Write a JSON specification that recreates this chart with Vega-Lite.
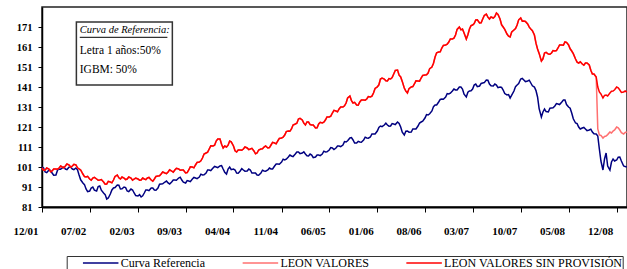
{
"$schema": "https://vega.github.io/schema/vega-lite/v6.json",
"width": 585, "height": 200,
"autosize": "none",
"padding": {"left": 42, "top": 7, "right": 0, "bottom": 62},
"background": "white",
"config": {"view": {"stroke": "#222", "strokeWidth": 1.5}, "font": "Liberation Serif"},
"datasets": {
"series": [
{"d":"2001-12-01","ref":101,"sp":100.5,"lv":100.5},
{"d":"2001-12-08","ref":100.5,"sp":99.4,"lv":99.4},
{"d":"2001-12-15","ref":98.5,"sp":99.5,"lv":99.5},
{"d":"2001-12-22","ref":98.2,"sp":100.5,"lv":100.5},
{"d":"2002-01-01","ref":99.5,"sp":100,"lv":100},
{"d":"2002-01-08","ref":99.3,"sp":98.6,"lv":98.6},
{"d":"2002-01-15","ref":98,"sp":99,"lv":99},
{"d":"2002-01-22","ref":96.9,"sp":100,"lv":100},
{"d":"2002-02-01","ref":97,"sp":100,"lv":100},
{"d":"2002-02-08","ref":99.4,"sp":99.9,"lv":99.9},
{"d":"2002-02-15","ref":100,"sp":100.5,"lv":100.5},
{"d":"2002-02-22","ref":99.9,"sp":101.5,"lv":101.5},
{"d":"2002-03-01","ref":100.5,"sp":101,"lv":101},
{"d":"2002-03-08","ref":101,"sp":100.6,"lv":100.6},
{"d":"2002-03-15","ref":100,"sp":101.5,"lv":101.5},
{"d":"2002-03-22","ref":99.7,"sp":102.5,"lv":102.5},
{"d":"2002-04-01","ref":101,"sp":102,"lv":102},
{"d":"2002-04-08","ref":101,"sp":100.9,"lv":100.9},
{"d":"2002-04-15","ref":100,"sp":101.5,"lv":101.5},
{"d":"2002-04-22","ref":99.7,"sp":102.3,"lv":102.3},
{"d":"2002-05-01","ref":100.5,"sp":102,"lv":102},
{"d":"2002-05-08","ref":99.6,"sp":100.6,"lv":100.6},
{"d":"2002-05-15","ref":97,"sp":100,"lv":100},
{"d":"2002-05-22","ref":94.6,"sp":99.5,"lv":99.5},
{"d":"2002-06-01","ref":93,"sp":97.5,"lv":97.5},
{"d":"2002-06-08","ref":92.2,"sp":96.2,"lv":96.2},
{"d":"2002-06-15","ref":90,"sp":96,"lv":96},
{"d":"2002-06-22","ref":88.7,"sp":96.3,"lv":96.3},
{"d":"2002-07-01","ref":89,"sp":95,"lv":95},
{"d":"2002-07-08","ref":90.5,"sp":94.4,"lv":94.4},
{"d":"2002-07-15","ref":91,"sp":95.5,"lv":95.5},
{"d":"2002-07-22","ref":89.4,"sp":95.8,"lv":95.8},
{"d":"2002-08-01","ref":89,"sp":95,"lv":95},
{"d":"2002-08-08","ref":91.2,"sp":94.4,"lv":94.4},
{"d":"2002-08-15","ref":91.5,"sp":94.5,"lv":94.5},
{"d":"2002-08-22","ref":89.4,"sp":94.7,"lv":94.7},
{"d":"2002-09-01","ref":88,"sp":93.5,"lv":93.5},
{"d":"2002-09-08","ref":87.2,"sp":92.4,"lv":92.4},
{"d":"2002-09-15","ref":85,"sp":92.5,"lv":92.5},
{"d":"2002-09-22","ref":85.5,"sp":93.8,"lv":93.8},
{"d":"2002-10-01","ref":87.5,"sp":93.5,"lv":93.5},
{"d":"2002-10-08","ref":89.5,"sp":93.1,"lv":93.1},
{"d":"2002-10-15","ref":90.5,"sp":94.5,"lv":94.5},
{"d":"2002-10-22","ref":90.7,"sp":96.3,"lv":96.3},
{"d":"2002-11-01","ref":92,"sp":97,"lv":97},
{"d":"2002-11-08","ref":91.9,"sp":95.6,"lv":95.6},
{"d":"2002-11-15","ref":90,"sp":95,"lv":95},
{"d":"2002-11-22","ref":90.1,"sp":96,"lv":96},
{"d":"2002-12-01","ref":91,"sp":95.5,"lv":95.5},
{"d":"2002-12-08","ref":90.7,"sp":94.7,"lv":94.7},
{"d":"2002-12-15","ref":89,"sp":95,"lv":95},
{"d":"2002-12-22","ref":88.7,"sp":96,"lv":96},
{"d":"2003-01-01","ref":90,"sp":95.5,"lv":95.5},
{"d":"2003-01-08","ref":89.5,"sp":94.4,"lv":94.4},
{"d":"2003-01-15","ref":88,"sp":95,"lv":95},
{"d":"2003-01-22","ref":86.7,"sp":95.5,"lv":95.5},
{"d":"2003-02-01","ref":86.5,"sp":95,"lv":95},
{"d":"2003-02-08","ref":87.2,"sp":94.4,"lv":94.4},
{"d":"2003-02-15","ref":86,"sp":94.5,"lv":94.5},
{"d":"2003-02-22","ref":86.6,"sp":95.5,"lv":95.5},
{"d":"2003-03-01","ref":88,"sp":95,"lv":95},
{"d":"2003-03-08","ref":89.5,"sp":94.7,"lv":94.7},
{"d":"2003-03-15","ref":89.5,"sp":95.5,"lv":95.5},
{"d":"2003-03-22","ref":89.2,"sp":95.8,"lv":95.8},
{"d":"2003-04-01","ref":90.5,"sp":94.5,"lv":94.5},
{"d":"2003-04-08","ref":90.5,"sp":93.9,"lv":93.9},
{"d":"2003-04-15","ref":89.5,"sp":95,"lv":95},
{"d":"2003-04-22","ref":89.4,"sp":96.3,"lv":96.3},
{"d":"2003-05-01","ref":90.5,"sp":96.5,"lv":96.5},
{"d":"2003-05-08","ref":92.4,"sp":96.6,"lv":96.6},
{"d":"2003-05-15","ref":92.5,"sp":97.5,"lv":97.5},
{"d":"2003-05-22","ref":92.6,"sp":98.5,"lv":98.5},
{"d":"2003-06-01","ref":93.5,"sp":98,"lv":98},
{"d":"2003-06-08","ref":94,"sp":97.7,"lv":97.7},
{"d":"2003-06-15","ref":93,"sp":98.5,"lv":98.5},
{"d":"2003-06-22","ref":92.5,"sp":99.6,"lv":99.6},
{"d":"2003-07-01","ref":93.5,"sp":99,"lv":99},
{"d":"2003-07-08","ref":94.5,"sp":98.4,"lv":98.4},
{"d":"2003-07-15","ref":94.5,"sp":99.5,"lv":99.5},
{"d":"2003-07-22","ref":94.4,"sp":100.3,"lv":100.3},
{"d":"2003-08-01","ref":95.5,"sp":100,"lv":100},
{"d":"2003-08-08","ref":95.9,"sp":99.4,"lv":99.4},
{"d":"2003-08-15","ref":94.5,"sp":99.5,"lv":99.5},
{"d":"2003-08-22","ref":93.4,"sp":99.5,"lv":99.5},
{"d":"2003-09-01","ref":93,"sp":98,"lv":98},
{"d":"2003-09-08","ref":94.2,"sp":98.2,"lv":98.2},
{"d":"2003-09-15","ref":94,"sp":99.5,"lv":99.5},
{"d":"2003-09-22","ref":93.7,"sp":101.1,"lv":101.1},
{"d":"2003-10-01","ref":95,"sp":101,"lv":101},
{"d":"2003-10-08","ref":95.8,"sp":100.6,"lv":100.6},
{"d":"2003-10-15","ref":95.5,"sp":102,"lv":102},
{"d":"2003-10-22","ref":95.2,"sp":103.3,"lv":103.3},
{"d":"2003-11-01","ref":96,"sp":103.5,"lv":103.5},
{"d":"2003-11-08","ref":97.4,"sp":104.1,"lv":104.1},
{"d":"2003-11-15","ref":97,"sp":105.5,"lv":105.5},
{"d":"2003-11-22","ref":97.1,"sp":107.5,"lv":107.5},
{"d":"2003-12-01","ref":98,"sp":108,"lv":108},
{"d":"2003-12-08","ref":99.5,"sp":108.4,"lv":108.4},
{"d":"2003-12-15","ref":99.5,"sp":110,"lv":110},
{"d":"2003-12-22","ref":99.2,"sp":111.6,"lv":111.6},
{"d":"2004-01-01","ref":100.5,"sp":111.5,"lv":111.5},
{"d":"2004-01-08","ref":101.3,"sp":111.9,"lv":111.9},
{"d":"2004-01-15","ref":101,"sp":114,"lv":114},
{"d":"2004-01-22","ref":100.7,"sp":115,"lv":115},
{"d":"2004-02-01","ref":101.5,"sp":115,"lv":115},
{"d":"2004-02-08","ref":101.7,"sp":112.4,"lv":112.4},
{"d":"2004-02-15","ref":100,"sp":110.5,"lv":110.5},
{"d":"2004-02-22","ref":98.4,"sp":111.5,"lv":111.5},
{"d":"2004-03-01","ref":97.5,"sp":111,"lv":111},
{"d":"2004-03-08","ref":100,"sp":111.9,"lv":111.9},
{"d":"2004-03-15","ref":101,"sp":114,"lv":114},
{"d":"2004-03-22","ref":99.7,"sp":113.6,"lv":113.6},
{"d":"2004-04-01","ref":100,"sp":111.5,"lv":111.5},
{"d":"2004-04-08","ref":99.5,"sp":109.1,"lv":109.1},
{"d":"2004-04-15","ref":98,"sp":108.5,"lv":108.5},
{"d":"2004-04-22","ref":97.9,"sp":109.5,"lv":109.5},
{"d":"2004-05-01","ref":99,"sp":109.5,"lv":109.5},
{"d":"2004-05-08","ref":100.2,"sp":109.4,"lv":109.4},
{"d":"2004-05-15","ref":99.5,"sp":110,"lv":110},
{"d":"2004-05-22","ref":98.9,"sp":111,"lv":111},
{"d":"2004-06-01","ref":99,"sp":110.5,"lv":110.5},
{"d":"2004-06-08","ref":100,"sp":109.7,"lv":109.7},
{"d":"2004-06-15","ref":99.5,"sp":110,"lv":110},
{"d":"2004-06-22","ref":98,"sp":110.3,"lv":110.3},
{"d":"2004-07-01","ref":98,"sp":109,"lv":109},
{"d":"2004-07-08","ref":98,"sp":107.6,"lv":107.6},
{"d":"2004-07-15","ref":97,"sp":108,"lv":108},
{"d":"2004-07-22","ref":96.9,"sp":109.5,"lv":109.5},
{"d":"2004-08-01","ref":98,"sp":110,"lv":110},
{"d":"2004-08-08","ref":99.4,"sp":110.1,"lv":110.1},
{"d":"2004-08-15","ref":99,"sp":111,"lv":111},
{"d":"2004-08-22","ref":98.9,"sp":111.5,"lv":111.5},
{"d":"2004-09-01","ref":99.5,"sp":110.5,"lv":110.5},
{"d":"2004-09-08","ref":100.5,"sp":110.7,"lv":110.7},
{"d":"2004-09-15","ref":100,"sp":112,"lv":112},
{"d":"2004-09-22","ref":100,"sp":113.3,"lv":113.3},
{"d":"2004-10-01","ref":101.5,"sp":113,"lv":113},
{"d":"2004-10-08","ref":102.5,"sp":112.6,"lv":112.6},
{"d":"2004-10-15","ref":102.5,"sp":114,"lv":114},
{"d":"2004-10-22","ref":102.4,"sp":115.3,"lv":115.3},
{"d":"2004-11-01","ref":103.5,"sp":115.5,"lv":115.5},
{"d":"2004-11-08","ref":104.9,"sp":115.9,"lv":115.9},
{"d":"2004-11-15","ref":104.5,"sp":117,"lv":117},
{"d":"2004-11-22","ref":104.9,"sp":118.7,"lv":118.7},
{"d":"2004-12-01","ref":106,"sp":119,"lv":119},
{"d":"2004-12-08","ref":107,"sp":118.9,"lv":118.9},
{"d":"2004-12-15","ref":106.5,"sp":120,"lv":120},
{"d":"2004-12-22","ref":106.2,"sp":122,"lv":122},
{"d":"2005-01-01","ref":107.5,"sp":122.5,"lv":122.5},
{"d":"2005-01-08","ref":108.5,"sp":122.9,"lv":122.9},
{"d":"2005-01-15","ref":108.5,"sp":125,"lv":125},
{"d":"2005-01-22","ref":107.7,"sp":125.3,"lv":125.3},
{"d":"2005-02-01","ref":108,"sp":124.5,"lv":124.5},
{"d":"2005-02-08","ref":108.6,"sp":122.9,"lv":122.9},
{"d":"2005-02-15","ref":107.5,"sp":122,"lv":122},
{"d":"2005-02-22","ref":106.6,"sp":123.5,"lv":123.5},
{"d":"2005-03-01","ref":106.5,"sp":123.5,"lv":123.5},
{"d":"2005-03-08","ref":107.5,"sp":122.2,"lv":122.2},
{"d":"2005-03-15","ref":107,"sp":122,"lv":122},
{"d":"2005-03-22","ref":105.7,"sp":122,"lv":122},
{"d":"2005-04-01","ref":106,"sp":120.5,"lv":120.5},
{"d":"2005-04-08","ref":107,"sp":120.6,"lv":120.6},
{"d":"2005-04-15","ref":107,"sp":122.5,"lv":122.5},
{"d":"2005-04-22","ref":106.7,"sp":123.3,"lv":123.3},
{"d":"2005-05-01","ref":107.5,"sp":123,"lv":123},
{"d":"2005-05-08","ref":108.9,"sp":123.4,"lv":123.4},
{"d":"2005-05-15","ref":108.5,"sp":124.5,"lv":124.5},
{"d":"2005-05-22","ref":108.6,"sp":126,"lv":126},
{"d":"2005-06-01","ref":109.5,"sp":126,"lv":126},
{"d":"2005-06-08","ref":110.7,"sp":126.4,"lv":126.4},
{"d":"2005-06-15","ref":110.5,"sp":128,"lv":128},
{"d":"2005-06-22","ref":109.7,"sp":129.3,"lv":129.3},
{"d":"2005-07-01","ref":110.5,"sp":129,"lv":129},
{"d":"2005-07-08","ref":111.5,"sp":128.6,"lv":128.6},
{"d":"2005-07-15","ref":111.5,"sp":130,"lv":130},
{"d":"2005-07-22","ref":111.2,"sp":131,"lv":131},
{"d":"2005-08-01","ref":112,"sp":131,"lv":131},
{"d":"2005-08-08","ref":113.7,"sp":131.6,"lv":131.6},
{"d":"2005-08-15","ref":113.5,"sp":133,"lv":133},
{"d":"2005-08-22","ref":114.1,"sp":135.5,"lv":135.5},
{"d":"2005-09-01","ref":115.5,"sp":136.5,"lv":136.5},
{"d":"2005-09-08","ref":115.7,"sp":134.2,"lv":134.2},
{"d":"2005-09-15","ref":114.5,"sp":133,"lv":133},
{"d":"2005-09-22","ref":113,"sp":133.3,"lv":133.3},
{"d":"2005-10-01","ref":113,"sp":132,"lv":132},
{"d":"2005-10-08","ref":113.8,"sp":131.9,"lv":131.9},
{"d":"2005-10-15","ref":113.5,"sp":133.5,"lv":133.5},
{"d":"2005-10-22","ref":113.4,"sp":134.5,"lv":134.5},
{"d":"2005-11-01","ref":114.5,"sp":134.5,"lv":134.5},
{"d":"2005-11-08","ref":115.9,"sp":134.4,"lv":134.4},
{"d":"2005-11-15","ref":115.5,"sp":135,"lv":135},
{"d":"2005-11-22","ref":115.4,"sp":136.2,"lv":136.2},
{"d":"2005-12-01","ref":116,"sp":136,"lv":136},
{"d":"2005-12-08","ref":117.5,"sp":136.4,"lv":136.4},
{"d":"2005-12-15","ref":117.5,"sp":138,"lv":138},
{"d":"2005-12-22","ref":117.5,"sp":140.3,"lv":140.3},
{"d":"2006-01-01","ref":119,"sp":141,"lv":141},
{"d":"2006-01-08","ref":120.8,"sp":142.1,"lv":142.1},
{"d":"2006-01-15","ref":121.5,"sp":145,"lv":145},
{"d":"2006-01-22","ref":121.2,"sp":145.5,"lv":145.5},
{"d":"2006-02-01","ref":122,"sp":145,"lv":145},
{"d":"2006-02-08","ref":122.9,"sp":144.1,"lv":144.1},
{"d":"2006-02-15","ref":122,"sp":144,"lv":144},
{"d":"2006-02-22","ref":121.4,"sp":145.2,"lv":145.2},
{"d":"2006-03-01","ref":121.5,"sp":145,"lv":145},
{"d":"2006-03-08","ref":122.7,"sp":145.7,"lv":145.7},
{"d":"2006-03-15","ref":122.5,"sp":147.5,"lv":147.5},
{"d":"2006-03-22","ref":122.2,"sp":149.3,"lv":149.3},
{"d":"2006-04-01","ref":123.5,"sp":149.5,"lv":149.5},
{"d":"2006-04-08","ref":122.8,"sp":146.9,"lv":146.9},
{"d":"2006-04-15","ref":121,"sp":146,"lv":146},
{"d":"2006-04-22","ref":118.4,"sp":143.8,"lv":143.8},
{"d":"2006-05-01","ref":117,"sp":140.5,"lv":140.5},
{"d":"2006-05-08","ref":118.9,"sp":138.9,"lv":138.9},
{"d":"2006-05-15","ref":119,"sp":138,"lv":138},
{"d":"2006-05-22","ref":118.4,"sp":140.2,"lv":140.2},
{"d":"2006-06-01","ref":118.5,"sp":141,"lv":141},
{"d":"2006-06-08","ref":120,"sp":141.2,"lv":141.2},
{"d":"2006-06-15","ref":120,"sp":142.5,"lv":142.5},
{"d":"2006-06-22","ref":120,"sp":144.1,"lv":144.1},
{"d":"2006-07-01","ref":121.5,"sp":144,"lv":144},
{"d":"2006-07-08","ref":123,"sp":143.9,"lv":143.9},
{"d":"2006-07-15","ref":123.5,"sp":145.5,"lv":145.5},
{"d":"2006-07-22","ref":123.9,"sp":146.8,"lv":146.8},
{"d":"2006-08-01","ref":125.5,"sp":147,"lv":147},
{"d":"2006-08-08","ref":127.2,"sp":147.1,"lv":147.1},
{"d":"2006-08-15","ref":127,"sp":148,"lv":148},
{"d":"2006-08-22","ref":127.6,"sp":150.2,"lv":150.2},
{"d":"2006-09-01","ref":129,"sp":151,"lv":151},
{"d":"2006-09-08","ref":131.2,"sp":152.9,"lv":152.9},
{"d":"2006-09-15","ref":132,"sp":156,"lv":156},
{"d":"2006-09-22","ref":132,"sp":158.1,"lv":158.1},
{"d":"2006-10-01","ref":133.5,"sp":158.5,"lv":158.5},
{"d":"2006-10-08","ref":134.8,"sp":158.6,"lv":158.6},
{"d":"2006-10-15","ref":135,"sp":160.5,"lv":160.5},
{"d":"2006-10-22","ref":134.9,"sp":161.8,"lv":161.8},
{"d":"2006-11-01","ref":136,"sp":162,"lv":162},
{"d":"2006-11-08","ref":137.7,"sp":162.4,"lv":162.4},
{"d":"2006-11-15","ref":137.5,"sp":163.5,"lv":163.5},
{"d":"2006-11-22","ref":137.9,"sp":165,"lv":165},
{"d":"2006-12-01","ref":139,"sp":165,"lv":165},
{"d":"2006-12-08","ref":140,"sp":165.4,"lv":165.4},
{"d":"2006-12-15","ref":139.5,"sp":167,"lv":167},
{"d":"2006-12-22","ref":139.5,"sp":169.8,"lv":169.8},
{"d":"2007-01-01","ref":141,"sp":171,"lv":171},
{"d":"2007-01-08","ref":141,"sp":169.6,"lv":169.6},
{"d":"2007-01-15","ref":140,"sp":170,"lv":170},
{"d":"2007-01-22","ref":137.4,"sp":168,"lv":168},
{"d":"2007-02-01","ref":136,"sp":165,"lv":165},
{"d":"2007-02-08","ref":138.4,"sp":167.1,"lv":167.1},
{"d":"2007-02-15","ref":139,"sp":170,"lv":170},
{"d":"2007-02-22","ref":139.1,"sp":171.7,"lv":171.7},
{"d":"2007-03-01","ref":140,"sp":172,"lv":172},
{"d":"2007-03-08","ref":142,"sp":172.7,"lv":172.7},
{"d":"2007-03-15","ref":142.5,"sp":174.5,"lv":174.5},
{"d":"2007-03-22","ref":141.2,"sp":174.6,"lv":174.6},
{"d":"2007-04-01","ref":141.5,"sp":173,"lv":173},
{"d":"2007-04-08","ref":142.8,"sp":173.1,"lv":173.1},
{"d":"2007-04-15","ref":143,"sp":175,"lv":175},
{"d":"2007-04-22","ref":143.2,"sp":176.8,"lv":176.8},
{"d":"2007-05-01","ref":144.5,"sp":177.5,"lv":177.5},
{"d":"2007-05-08","ref":144.4,"sp":175.9,"lv":175.9},
{"d":"2007-05-15","ref":142.5,"sp":175,"lv":175},
{"d":"2007-05-22","ref":141.6,"sp":176,"lv":176},
{"d":"2007-06-01","ref":141.5,"sp":175.5,"lv":175.5},
{"d":"2007-06-08","ref":142.5,"sp":176.2,"lv":176.2},
{"d":"2007-06-15","ref":142,"sp":178,"lv":178},
{"d":"2007-06-22","ref":140.7,"sp":177.3,"lv":177.3},
{"d":"2007-07-01","ref":141,"sp":175,"lv":175},
{"d":"2007-07-08","ref":140.8,"sp":172.1,"lv":172.1},
{"d":"2007-07-15","ref":139.5,"sp":171,"lv":171},
{"d":"2007-07-22","ref":137.7,"sp":169.8,"lv":169.8},
{"d":"2007-08-01","ref":137,"sp":167.5,"lv":167.5},
{"d":"2007-08-08","ref":137.2,"sp":166.4,"lv":166.4},
{"d":"2007-08-15","ref":135.5,"sp":166,"lv":166},
{"d":"2007-08-22","ref":136.9,"sp":168.5,"lv":168.5},
{"d":"2007-09-01","ref":139,"sp":169.5,"lv":169.5},
{"d":"2007-09-08","ref":141.2,"sp":170.2,"lv":170.2},
{"d":"2007-09-15","ref":142,"sp":172,"lv":172},
{"d":"2007-09-22","ref":142.7,"sp":174.6,"lv":174.6},
{"d":"2007-10-01","ref":145,"sp":175.5,"lv":175.5},
{"d":"2007-10-08","ref":145.3,"sp":173.9,"lv":173.9},
{"d":"2007-10-15","ref":144.5,"sp":174,"lv":174},
{"d":"2007-10-22","ref":143.7,"sp":173.8,"lv":173.8},
{"d":"2007-11-01","ref":144,"sp":172.5,"lv":172.5},
{"d":"2007-11-08","ref":144.4,"sp":170.9,"lv":170.9},
{"d":"2007-11-15","ref":143,"sp":170,"lv":170},
{"d":"2007-11-22","ref":141.6,"sp":169.2,"lv":169.2},
{"d":"2007-12-01","ref":141,"sp":167,"lv":167},
{"d":"2007-12-08","ref":139.2,"sp":162.9,"lv":162.9},
{"d":"2007-12-15","ref":136,"sp":160,"lv":160},
{"d":"2007-12-22","ref":130.2,"sp":157.8,"lv":157.8},
{"d":"2008-01-01","ref":126,"sp":154,"lv":154},
{"d":"2008-01-08","ref":128.5,"sp":155.1,"lv":155.1},
{"d":"2008-01-15","ref":130,"sp":158,"lv":158},
{"d":"2008-01-22","ref":128.7,"sp":158.3,"lv":158.3},
{"d":"2008-02-01","ref":128.5,"sp":157.5,"lv":157.5},
{"d":"2008-02-08","ref":130.4,"sp":157.4,"lv":157.4},
{"d":"2008-02-15","ref":130.5,"sp":158,"lv":158},
{"d":"2008-02-22","ref":130.6,"sp":159.2,"lv":159.2},
{"d":"2008-03-01","ref":131.5,"sp":159,"lv":159},
{"d":"2008-03-08","ref":132.7,"sp":159.2,"lv":159.2},
{"d":"2008-03-15","ref":132.5,"sp":160.5,"lv":160.5},
{"d":"2008-03-22","ref":132.2,"sp":162,"lv":162},
{"d":"2008-04-01","ref":133.5,"sp":162,"lv":162},
{"d":"2008-04-08","ref":134.5,"sp":161.9,"lv":161.9},
{"d":"2008-04-15","ref":134.5,"sp":163.5,"lv":163.5},
{"d":"2008-04-22","ref":132.2,"sp":163.3,"lv":163.3},
{"d":"2008-05-01","ref":131,"sp":162,"lv":162},
{"d":"2008-05-08","ref":130.4,"sp":160.1,"lv":160.1},
{"d":"2008-05-15","ref":128,"sp":159,"lv":159},
{"d":"2008-05-22","ref":125.1,"sp":157.7,"lv":157.7},
{"d":"2008-06-01","ref":123,"sp":155,"lv":155},
{"d":"2008-06-08","ref":122.7,"sp":153.4,"lv":153.4},
{"d":"2008-06-15","ref":121,"sp":153,"lv":153},
{"d":"2008-06-22","ref":120,"sp":153.6,"lv":153.6},
{"d":"2008-07-01","ref":120.5,"sp":152.5,"lv":152.5},
{"d":"2008-07-08","ref":120.8,"sp":151.9,"lv":151.9},
{"d":"2008-07-15","ref":120,"sp":153,"lv":153},
{"d":"2008-07-22","ref":119.2,"sp":153,"lv":153},
{"d":"2008-08-01","ref":119.5,"sp":152,"lv":152},
{"d":"2008-08-08","ref":119.9,"sp":149.4,"lv":149.4},
{"d":"2008-08-15","ref":118.5,"sp":147.5,"lv":147.5},
{"d":"2008-08-22","ref":117.6,"sp":147.5,"lv":147.5},
{"d":"2008-09-01","ref":117.5,"sp":146,"lv":146},
{"d":"2008-09-08","ref":116.5,"sp":141,"lv":120},
{"d":"2008-09-15","ref":110,"sp":138.5,"lv":117},
{"d":"2008-09-22","ref":104,"sp":137.5,"lv":116.8},
{"d":"2008-10-01","ref":99.5,"sp":135.5,"lv":115.5},
{"d":"2008-10-08","ref":105,"sp":136.8,"lv":116.3},
{"d":"2008-10-15","ref":108,"sp":137,"lv":116.5},
{"d":"2008-10-22","ref":101.5,"sp":136.5,"lv":117.2},
{"d":"2008-11-01","ref":99.5,"sp":138,"lv":118.5},
{"d":"2008-11-08","ref":103.5,"sp":138.9,"lv":118},
{"d":"2008-11-15","ref":105,"sp":139,"lv":119},
{"d":"2008-11-22","ref":104,"sp":139.6,"lv":119.5},
{"d":"2008-12-01","ref":104.5,"sp":141,"lv":121},
{"d":"2008-12-08","ref":105.9,"sp":140.6,"lv":120.6},
{"d":"2008-12-15","ref":106,"sp":139.5,"lv":119.5},
{"d":"2008-12-22","ref":104,"sp":138.3,"lv":118.2},
{"d":"2009-01-01","ref":101.5,"sp":138.5,"lv":117.5},
{"d":"2009-01-08","ref":101.2,"sp":139,"lv":118.3},
{"d":"2009-01-15","ref":101,"sp":138.5,"lv":118.5}
],
"box": [{"x1":"2002-05-03","x2":"2003-07-04","y1":173.5,"y2":142}],
"uline": [{"x1":"2002-05-18","x2":"2003-06-12","y":165.85}],
"head": [{"d":"2002-05-18","v":167.85,"t":"Curva de Referencia:"}],
"body": [{"d":"2002-05-18","v":157.35,"t":"Letra 1 años:50%"},{"d":"2002-05-18","v":148.15,"t":"IGBM: 50%"}]
},
"layer": [
{"data": {"name": "series"},
 "transform": [{"fold": ["ref","lv","sp"], "as": ["serie","valor"]}],
 "mark": {"type": "line", "strokeWidth": 1.5},
 "encoding": {
  "x": {"field": "d", "type": "temporal", "title": null,
    "scale": {"type": "utc", "domain": [{"year":2001,"month":12,"date":1,"utc":true},{"year":2009,"month":1,"date":16,"utc":true}]},
    "axis": {"values": [
      {"year":2001,"month":12,"date":1,"utc":true},{"year":2002,"month":7,"date":1,"utc":true},{"year":2003,"month":2,"date":1,"utc":true},
      {"year":2003,"month":9,"date":1,"utc":true},{"year":2004,"month":4,"date":1,"utc":true},{"year":2004,"month":11,"date":1,"utc":true},
      {"year":2005,"month":6,"date":1,"utc":true},{"year":2006,"month":1,"date":1,"utc":true},{"year":2006,"month":8,"date":1,"utc":true},
      {"year":2007,"month":3,"date":1,"utc":true},{"year":2007,"month":10,"date":1,"utc":true},{"year":2008,"month":5,"date":1,"utc":true},
      {"year":2008,"month":12,"date":1,"utc":true}], "tickCount": 20,
      "format": "%m/%y", "labelFont": "Liberation Serif", "labelFontSize": 11, "labelFontWeight": "bold",
      "labelColor": "#000", "tickColor": "#000", "tickSize": 5, "domainColor": "#000", "domainWidth": 2,
      "labelPadding": 13, "labelAlign": "right", "labelOffset": -4, "labelFlush": false, "labelOverlap": false, "grid": false}},
  "y": {"field": "valor", "type": "quantitative", "title": null,
    "scale": {"domain": [81,181], "nice": false, "zero": false},
    "axis": {"values": [81,91,101,111,121,131,141,151,161,171], "tickCount": 12, "labelFont": "Liberation Serif", "labelFontSize": 10.5, "labelFontWeight": "bold",
      "labelColor": "#000", "tickColor": "#000", "tickSize": 4, "domainColor": "#000", "domainWidth": 1.5, "labelPadding": 6, "labelOverlap": false, "grid": false}},
  "color": {"field": "serie", "type": "nominal",
    "scale": {"domain": ["ref","lv","sp"], "range": ["#000080","#ff7070","#ff0000"]},
    "legend": {"orient": "none", "legendX": 24.7, "legendY": 249, "direction": "horizontal", "columns": 3, "title": null,
      "symbolType": "stroke", "symbolSize": 1260, "symbolStrokeWidth": 1.6, "clipHeight": 14,
      "labelFont": "Liberation Serif", "labelFontSize": 12, "labelColor": "#000", "labelOffset": 1, "labelLimit": 400,
      "strokeColor": "#333", "fillColor": "#fff", "padding": 0, "columnPadding": 20.7, "symbolOffset": 15,
      "labelExpr": "datum.label == 'ref' ? 'Curva Referencia' : datum.label == 'lv' ? 'LEON VALORES' : 'LEON VALORES SIN PROVISIÓN'"}}
 }},
{"data": {"name": "box"},
 "mark": {"type": "rect", "fill": "#fff", "stroke": "#333", "strokeWidth": 1.5},
 "encoding": {
  "x": {"field": "x1", "type": "temporal", "scale": {"type": "utc"}, "title": null},
  "x2": {"field": "x2"},
  "y": {"field": "y1", "type": "quantitative", "title": null},
  "y2": {"field": "y2"}}},
{"data": {"name": "uline"},
 "mark": {"type": "rule", "stroke": "#000", "strokeWidth": 1},
 "encoding": {
  "x": {"field": "x1", "type": "temporal", "scale": {"type": "utc"}, "title": null},
  "x2": {"field": "x2"},
  "y": {"field": "y", "type": "quantitative", "title": null}}},
{"data": {"name": "head"},
 "mark": {"type": "text", "align": "left", "baseline": "alphabetic", "font": "Liberation Serif", "fontSize": 10.5, "fontStyle": "italic", "fill": "#000"},
 "encoding": {
  "x": {"field": "d", "type": "temporal", "scale": {"type": "utc"}, "title": null},
  "y": {"field": "v", "type": "quantitative", "title": null},
  "text": {"field": "t"}}},
{"data": {"name": "body"},
 "mark": {"type": "text", "align": "left", "baseline": "alphabetic", "font": "Liberation Serif", "fontSize": 11.5, "fill": "#000"},
 "encoding": {
  "x": {"field": "d", "type": "temporal", "scale": {"type": "utc"}, "title": null},
  "y": {"field": "v", "type": "quantitative", "title": null},
  "text": {"field": "t"}}}
]
}
